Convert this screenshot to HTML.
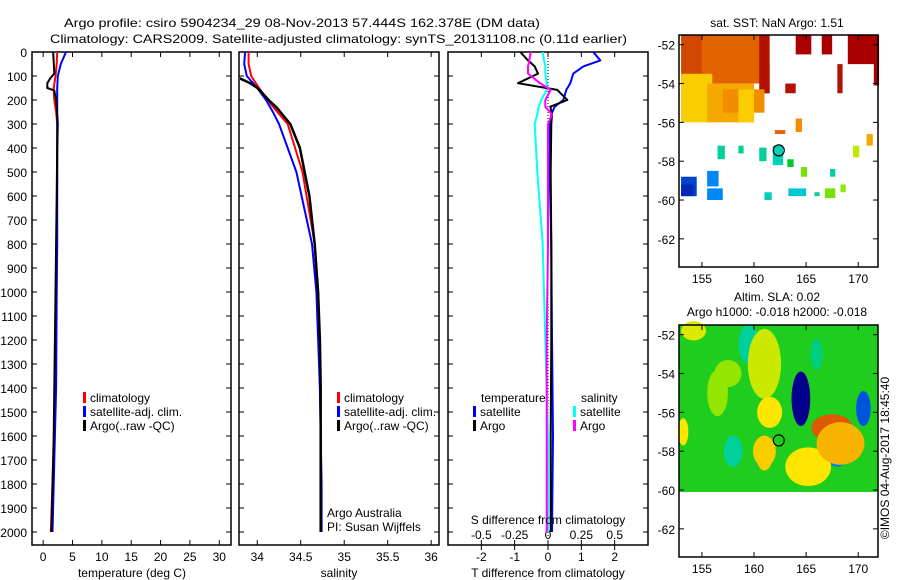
<!DOCTYPE html>
<html><head><meta charset="utf-8"><style>
html,body{margin:0;padding:0;background:#fff;}
svg{display:block;font-family:"Liberation Sans",sans-serif;}
text{font-size:12px;fill:#000;}
</style></head><body>
<svg id="fig" width="900" height="580" viewBox="0 0 900 580">
<defs>
<clipPath id="c0"><rect x="33" y="52" width="197" height="493"/></clipPath>
<clipPath id="c1"><rect x="240" y="52" width="198" height="493"/></clipPath>
<clipPath id="c2"><rect x="449" y="52" width="198" height="493"/></clipPath>
</defs>
<text x="64" y="27" font-size="14" textLength="476" lengthAdjust="spacingAndGlyphs">Argo profile: csiro 5904234_29 08-Nov-2013 57.444S 162.378E (DM data)</text>
<text x="50" y="43" font-size="14" textLength="577" lengthAdjust="spacingAndGlyphs">Climatology: CARS2009. Satellite-adjusted climatology: synTS_20131108.nc (0.11d earlier)</text>
<g id="g"></g>
</svg>
<script>
// ---- data ----
const depthTicks=[0,100,200,300,400,500,600,700,800,900,1000,1100,1200,1300,1400,1500,1600,1700,1800,1900,2000];
const tempTicks=[0,5,10,15,20,25,30];
const salTicks=[34,34.5,35,35.5,36];
const salTickLabels=["34","34.5","35","35.5","36"];
const tdTicks=[-2,-1,0,1,2];
const sdTicks=[-0.5,-0.25,0,0.25,0.5];
const sdTickLabels=["-0.5","-0.25","0","0.25","0.5"];

const argoDepth=[0,40,90,110,130,150,160,200,230,300,400,600,800,1000,1200,1400,1600,1800,1900,2000];
const argoTemp=[1.7,1.8,1.9,1.2,0.7,0.7,1.9,2.2,2.3,2.5,2.4,2.3,2.2,2.1,2.0,1.9,1.8,1.6,1.5,1.4];
const climDepth=[0,50,100,150,200,250,300,500,800,1000,1400,1600,1800,2000];
const climTemp=[2.4,2.3,2.1,1.8,1.9,2.2,2.4,2.4,2.3,2.2,2.1,1.9,1.6,1.3];
const satTemp=[3.9,3.0,2.5,2.4,2.4,2.4,2.4,2.4,2.4,2.3,2.2,2.0,1.8,1.6];

const argoSal=[33.70,33.70,33.70,33.8,33.92,34.0,34.03,34.13,34.22,34.38,34.49,34.6,34.66,34.7,34.72,34.73,34.73,34.73,34.73,34.73];
const climSal=[33.9,33.9,33.93,34.02,34.12,34.23,34.35,34.52,34.66,34.7,34.72,34.73,34.73,34.73];
const satSal=[33.86,33.85,33.88,34.0,34.1,34.18,34.25,34.45,34.63,34.68,34.72,34.73,34.74,34.74];

const tdDepth=[0,35,60,90,130,158,200,228,260,300,500,800,1200,1600,2000];
const tdArgo=[-0.83,-0.6,-0.4,-0.3,-0.9,0.28,0.58,0.07,0.12,0.1,0.08,0.1,0.1,0.08,0.08];
const tdSat=[1.36,1.57,1.06,0.76,0.67,0.55,0.46,0.2,0.1,0.05,0.05,0.1,0.12,0.15,0.12];
const sdArgo=[-0.13,-0.14,-0.15,-0.15,-0.06,0.02,-0.02,-0.02,0.03,0.0,0.0,0.0,-0.01,-0.01,-0.01];
const sdSat=[-0.04,-0.03,-0.02,-0.02,-0.01,-0.01,-0.05,-0.07,-0.08,-0.1,-0.08,-0.04,-0.02,0.0,0.0];

const lonTicks=[155,160,165,170];
const latTicks=[-52,-54,-56,-58,-60,-62];
// SST patches: lon0,lat0,lon1,lat1
const sstLon0=[153,155,160.5,164,166.5,169,171.5,161,163,168,153,155.5,157,158.5,162,164,156.5,158.5,160.5,161.8,163.2,164.5,167.3,153,155.5,153,155.5,161,163.3,165.8,166.8,168.3,169.5,170.8];
const sstLat0=[-51.5,-51.5,-51.5,-51.5,-51.5,-51.5,-51.5,-53,-54,-53,-53.5,-54,-54.3,-54.3,-56.4,-55.8,-57.2,-57.2,-57.3,-57.2,-57.9,-58.3,-58.4,-58.8,-58.5,-59.2,-59.4,-59.6,-59.4,-59.6,-59.4,-59.2,-57.2,-56.6];
const sstLon1=[157,161,161.5,165.5,167.5,172,172,161.5,164,168.5,156,160,161,160,163,164.6,157.2,159,161.2,162.8,163.8,165.1,167.8,154.5,156.6,154.2,157,161.7,165,166.3,167.8,168.8,170.1,171.4];
const sstLat1=[-54,-54,-54.5,-52.5,-52.5,-53,-54.1,-54.5,-54.5,-54.5,-56,-56,-55.5,-56,-56.6,-56.5,-57.9,-57.6,-58,-58.2,-58.3,-58.8,-58.8,-59.8,-59.3,-59.8,-60,-60,-59.8,-59.8,-59.9,-59.6,-57.8,-57.2];
const sstTemp=[7.2,6.9,7.8,8,8,8,8,7.8,7.8,7.8,6.0,6.3,6.5,6.0,6.9,6.5,3.2,3.2,3.2,3.0,4.0,4.8,3.2,0.8,1.6,0.5,1.6,3.0,2.7,3.2,4.8,5.0,5.3,6.3];
// SLA anomalies: lon, lat, rx(deg), ry(deg), value
const slaLon=[154.2,159.5,161,161.5,164.5,167.5,168,170.5,153.2,156.5,161,165.2,166,158,168.3,157.5,161];
const slaLat=[-51.8,-52.5,-53.5,-56,-55.3,-56.8,-58.2,-55.8,-57,-55,-58,-58.8,-53,-58,-57.6,-54,-58.2];
const slaRx=[1.2,1,1.6,1.2,0.9,2,1.1,0.7,0.5,1,1.1,2.2,0.6,0.9,2.3,1.3,0.8];
const slaRy=[0.5,1,1.8,0.8,1.4,0.7,0.6,0.9,0.7,1.2,0.8,1,0.8,0.8,1.1,0.7,0.8];
const slaVal=[0.15,-0.08,0.14,0.18,-0.4,0.3,-0.25,-0.3,0.18,0.1,0.2,0.18,-0.06,-0.08,0.22,0.1,0.2];

// ---- helpers ----
const NS="http://www.w3.org/2000/svg";
const G=document.getElementById('g');
function mk(tag,attrs,parent){const e=document.createElementNS(NS,tag);for(const k in attrs)e.setAttribute(k,attrs[k]);(parent||G).appendChild(e);return e;}
function txt(x,y,s,anchor,size){const t=mk('text',{x:x,y:y,'text-anchor':anchor||'start','font-size':size||12});t.textContent=s;return t;}

const PT=52,PB=545,yD=d=>PT+d*0.24;
const panels=[
 {x0:32,x1:231,v0:-1.9,v1:32.0,name:'temperature-panel',clip:'url(#c0)'},
 {x0:239,x1:439,v0:33.79,v1:36.09,name:'salinity-panel',clip:'url(#c1)'},
 {x0:448,x1:648,v0:-3,v1:3,name:'difference-panel',clip:'url(#c2)'}];
const sx=(p,v)=>p.x0+(v-p.v0)/(p.v1-p.v0)*(p.x1-p.x0);

function stepLine(p,depths,vals,color,w,name,scale){
 let d='';
 for(let i=0;i<depths.length;i++){
  const x=sx(p,vals[i]*(scale||1)).toFixed(1),y=yD(depths[i]).toFixed(1);
  d+=(i?'L':'M')+x+' '+y;
 }
 const e=mk('path',{d:d,fill:'none',stroke:color,'stroke-width':w,'stroke-linejoin':'round','clip-path':p.clip});
 
 
}

panels.forEach((p,pi)=>{
 const r=mk('rect',{x:p.x0,y:PT,width:p.x1-p.x0,height:PB-PT,fill:'#fff',stroke:'#000','stroke-width':1.5});
 
 
 depthTicks.forEach(d=>{mk('line',{x1:p.x0,x2:p.x0+5,y1:yD(d),y2:yD(d),stroke:'#000'});mk('line',{x1:p.x1,x2:p.x1-5,y1:yD(d),y2:yD(d),stroke:'#000'});
  if(pi==0){const t=txt(27,yD(d)+5,String(d),'end');}
 });
});
const P0=panels[0],P1=panels[1],P2=panels[2];
tempTicks.forEach(v=>{const x=sx(P0,v);mk('line',{x1:x,x2:x,y1:PB,y2:PB-5,stroke:'#000'});mk('line',{x1:x,x2:x,y1:PT,y2:PT+5,stroke:'#000'});const t=txt(x,561,String(v),'middle');});
salTicks.forEach((v,i)=>{const x=sx(P1,v);mk('line',{x1:x,x2:x,y1:PB,y2:PB-5,stroke:'#000'});mk('line',{x1:x,x2:x,y1:PT,y2:PT+5,stroke:'#000'});const t=txt(x,561,salTickLabels[i],'middle');});
tdTicks.forEach(v=>{const x=sx(P2,v);mk('line',{x1:x,x2:x,y1:PB,y2:PB+5,stroke:'#000'});mk('line',{x1:x,x2:x,y1:PT,y2:PT+5,stroke:'#000'});const t=txt(x,561,String(v),'middle');});
sdTicks.forEach((v,i)=>{const x=sx(P2,v*4);mk('line',{x1:x,x2:x,y1:PB,y2:PB-5,stroke:'#000'});const t=txt(x,539,sdTickLabels[i],'middle');});
mk('line',{x1:sx(P2,0),x2:sx(P2,0),y1:PT,y2:PB,stroke:'#000','stroke-dasharray':'1,2'});

stepLine(P0,climDepth,climTemp,'#f00',2,'temp-climatology-line');
stepLine(P0,climDepth,satTemp,'#00f',2,'temp-satellite-line');
stepLine(P0,argoDepth,argoTemp,'#000',2,'temp-argo-line');
stepLine(P1,climDepth,climSal,'#f00',2,'sal-climatology-line');
stepLine(P1,climDepth,satSal,'#00f',2,'sal-satellite-line');
stepLine(P1,argoDepth,argoSal,'#000',2.5,'sal-argo-line');
stepLine(P2,tdDepth,sdSat,'#0ff',2,'sdiff-satellite-line',4);
stepLine(P2,tdDepth,tdSat,'#00f',2,'tdiff-satellite-line');
stepLine(P2,tdDepth,tdArgo,'#000',2,'tdiff-argo-line');
stepLine(P2,tdDepth,sdArgo,'#f0f',2,'sdiff-argo-line',4);

[[132,577,'temperature (deg C)'],[339,577,'salinity'],[548,577,'T difference from climatology'],[548,524,'S difference from climatology']].forEach(a=>{const t=txt(a[0],a[1],a[2],'middle');});

function leg(x,y,color,label){mk('rect',{x:x,y:y-10,width:3,height:11,fill:color});const t=txt(x+7,y,label);}
[[83,402,'#f00','climatology'],[83,416,'#00f','satellite-adj. clim.'],[83,430,'#000','Argo(..raw -QC)'],
 [337,402,'#f00','climatology'],[337,416,'#00f','satellite-adj. clim.'],[337,430,'#000','Argo(..raw -QC)'],
 [473,416,'#00f','satellite'],[473,430,'#000','Argo'],[573,416,'#0ff','satellite'],[573,430,'#f0f','Argo']].forEach(l=>leg(...l));
txt(481,402,'temperature');txt(581,402,'salinity');
txt(327,517,'Argo Australia');txt(327,531,'PI: Susan Wijffels');

// ---- maps ----
function colormap(v,lo,hi){
 let t=Math.max(0,Math.min(1,(v-lo)/(hi-lo)));
 const stops=[[0,[0,0,140]],[0.12,[0,80,220]],[0.25,[0,170,255]],[0.37,[0,210,190]],[0.5,[0,200,40]],[0.62,[140,230,0]],[0.72,[255,235,0]],[0.84,[235,115,0]],[1,[170,0,0]]];
 for(let i=1;i<stops.length;i++){if(t<=stops[i][0]){const a=stops[i-1],b=stops[i],f=(t-a[0])/(b[0]-a[0]);return 'rgb('+a[1].map((c,k)=>Math.round(c+(b[1][k]-c)*f)).join(',')+')';}}
 return 'rgb(170,0,0)';
}
function mapFrame(y0,y1){
 const m={x0:679,x1:878,y0:y0,y1:y1,lon0:152.8,lon1:171.9,lat0:-51.5,lat1:-63.45};
 m.X=lon=>m.x0+(lon-m.lon0)/(m.lon1-m.lon0)*(m.x1-m.x0);
 m.Y=lat=>m.y0+(lat-m.lat0)/(m.lat1-m.lat0)*(m.y1-m.y0);
 return m;
}
function mapAxes(m,name){
 const r=mk('rect',{x:m.x0,y:m.y0,width:m.x1-m.x0,height:m.y1-m.y0,fill:'none',stroke:'#000','stroke-width':1.5});
 
 
 latTicks.forEach(l=>{const y=m.Y(l);mk('line',{x1:m.x0,x2:m.x0+5,y1:y,y2:y,stroke:'#000'});mk('line',{x1:m.x1,x2:m.x1-5,y1:y,y2:y,stroke:'#000'});txt(m.x0-4,y+5,String(l),'end');});
 lonTicks.forEach(l=>{const x=m.X(l);mk('line',{x1:x,x2:x,y1:m.y1,y2:m.y1-5,stroke:'#000'});mk('line',{x1:x,x2:x,y1:m.y0,y2:m.y0+5,stroke:'#000'});txt(x,m.y1+16,String(l),'middle');});
 mk('circle',{cx:m.X(162.378),cy:m.Y(-57.444),r:5.5,fill:'none',stroke:'#000','stroke-width':1.2});
}
const M1=mapFrame(35,267);
sstLon0.forEach((l,i)=>{
 const e=mk('rect',{x:M1.X(sstLon0[i]),y:M1.Y(sstLat0[i]),width:M1.X(sstLon1[i])-M1.X(sstLon0[i]),height:M1.Y(sstLat1[i])-M1.Y(sstLat0[i]),fill:colormap(sstTemp[i],0,8)});
 
 
});
mapAxes(M1,'sst-map');
txt(777,27,'sat. SST: NaN Argo: 1.51','middle');

const M2=mapFrame(325,557);
const bg=mk('rect',{x:M2.x0,y:M2.y0,width:M2.x1-M2.x0,height:M2.Y(-60.1)-M2.y0,fill:'rgb(30,205,30)'});


slaLon.forEach((l,i)=>{
 const e=mk('ellipse',{cx:M2.X(slaLon[i]),cy:M2.Y(slaLat[i]),rx:slaRx[i]*10.4,ry:slaRy[i]*19.4,fill:colormap(0.5+slaVal[i]*1.25,0,1)});
 
 
});
mapAxes(M2,'sla-map');
txt(777,301,'Altim. SLA: 0.02','middle');
txt(777,316,'Argo h1000: -0.018 h2000: -0.018','middle');
const v=txt(0,0,'©IMOS 04-Aug-2017 18:45:40','middle');
v.setAttribute('transform','translate(889,458) rotate(-90)');
</script>
</body></html>
